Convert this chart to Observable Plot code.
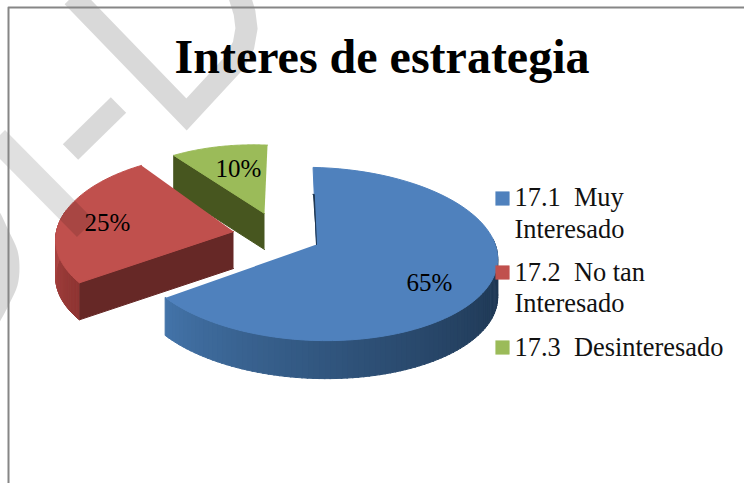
<!DOCTYPE html>
<html>
<head>
<meta charset="utf-8">
<script src="https://cdn.jsdelivr.net/npm/d3@7"></script>
<script src="https://cdn.jsdelivr.net/npm/@observablehq/plot@0.6"></script>
<style>
html,body{margin:0;padding:0;background:#fff;}
svg{display:block;}
</style>
</head>
<body>
<div id="chart"></div>
<script>
// Data
const categories = ["17.1  Muy Interesado", "17.2  No tan Interesado", "17.3  Desinteresado"];
const shares = [65, 25, 10];
const percentLabels = ["65%", "25%", "10%"];
const topColors = ["#4f81bd", "#c0504d", "#9bbb59"];
const titleText = "Interes de estrategia";

// Projection of the exploded 3-D pie (the chart space is in pixels of the picture)
const apexX = [316, 233, 264];
const apexY = [244, 231, 213];
const radiusX = [181, 177, 168];
const radiusY = [86.5, 86.5, 78];
const depth = [38, 37, 36];
const widen = [0.05, 0.1, 0.1];
const rotate = [0, 0.026, 0];
const side = [
  {light: "#4373a8", dark: "#1d3550", face: "#1d3550"},
  {light: "#b34a47", dark: "#8f3533", face: "#662826"},
  {light: "#47561f", dark: "#47561f", face: "#47561f"}
];

// Angles clockwise from the top, taken from the shares
const startAngles = d3.cumsum([0, ...shares.slice(0, -1)]).map((v, i) => v / 100 * 2 * Math.PI + rotate[i]);
const endAngles = d3.cumsum(shares).map((v, i) => v / 100 * 2 * Math.PI + rotate[i]);

function project(i, phi, r, z) {
  const s = Math.sin(phi), c = Math.cos(phi);
  const x = apexX[i] + r * radiusX[i] * s * (1 - widen[i] * c);
  const y = apexY[i] + r * (-radiusY[i] * c + 9.5 * c * c + 5 * s * s + 5 * s) + z * depth[i];
  return {x, y};
}

const polys = [];
function addPoly(id, fill, pts) {
  pts.forEach(p => polys.push({id, fill, x: p.x, y: p.y}));
}
function arcAngles(a, b, n) {
  return d3.range(n + 1).map(k => a + (b - a) * k / n);
}

// Draw order: green, red, blue (back to front as in the picture)
[2, 1, 0].forEach(i => {
  let a = startAngles[i], b = endAngles[i];
  if (i === 0) a -= 0.02;
  if (i === 2) b += 0.02;
  const apex0 = project(i, 0, 0, 0), apex1 = project(i, 0, 0, 1);

  // radial face of the cut that shows to the viewer
  if (i !== 0) {
    addPoly(`f${i}`, side[i].face, [apex0, project(i, a, 1, 0), project(i, a, 1, 1), apex1]);
  }
  // outer wall, as small quads so the shade can run across it
  if (i !== 2) {
    const wallFrom = i === 0 ? Math.PI / 2 - 0.18 : a;
    const wallTo = i === 0 ? b : 1.5 * Math.PI + 0.25;
    const n = 90;
    const angs = arcAngles(wallFrom, wallTo, n);
    const shade = d3.interpolateRgb(side[i].dark, side[i].light);
    for (let k = 0; k < n; k++) {
      const t = i === 0 ? Math.pow(k / (n - 1), 1.4) : k / (n - 1);
      const p0 = project(i, angs[k], 1, 0), p1 = project(i, angs[k + 1] + 0.006, 1, 0);
      const q1 = project(i, angs[k + 1] + 0.006, 1, 1), q0 = project(i, angs[k], 1, 1);
      addPoly(`w${i}-${k}`, shade(t), [p0, p1, q1, q0]);
    }
  }
  // top surface
  addPoly(`t${i}`, topColors[i], [apex0, ...arcAngles(a, b, 80).map(p => project(i, p, 1, 0))]);
  if (i === 0) {
    // thin dark sliver along blue's first cut
    addPoly("sliver", side[0].face, [apex0, project(0, a, 0.65, 0), project(0, a - 0.012, 0.65, 0)]);
  }
});

// Faint watermark strokes crossing the chart
const watermark = [
  {id: "D", pts: [[72,-4],[186,114],[234,62],[243,45],[246,28],[244,12],[239,-4]]},
  {id: "dash", pts: [[118,104.5],[70,151.5]]}
];
const watermarkRows = watermark.flatMap(w => w.pts.map(([x, y]) => ({id: w.id, x, y})));
const barRows = [[-4,138],[85,228]].map(([x, y]) => ({x, y}));
const crescent = [[-2,210],[0,213],[9,232],[17,250],[19,267],[17,285],[9,303],[0,320],[-2,323]];
const crescentRows = crescent.map(([x, y]) => ({x, y}));

const frame = [{x: 8, y: 483}, {x: 8, y: 7}, {x: 744, y: 7}];

const labelRows = [
  {t: percentLabels[0], x: 429, y: 282},
  {t: percentLabels[1], x: 107, y: 222},
  {t: percentLabels[2], x: 238, y: 168}
];
const swatches = [
  {c: topColors[0], x: 502, y: 198},
  {c: topColors[1], x: 502, y: 272},
  {c: topColors[2], x: 502, y: 347}
];
const legendLines = [
  {t: "17.1  Muy", x: 514, y: 197},
  {t: "Interesado", x: 514, y: 229},
  {t: "17.2  No tan", x: 514, y: 272},
  {t: "Interesado", x: 514, y: 303},
  {t: "17.3  Desinteresado", x: 514, y: 347}
];

const serif = "'Liberation Serif', 'Times New Roman', serif";
const plot = Plot.plot({
  width: 744,
  height: 483,
  margin: 0,
  style: {background: "#fff", overflow: "hidden"},
  x: {domain: [0, 744], range: [0, 744], axis: null},
  y: {domain: [0, 483], range: [0, 483], axis: null},
  marks: [
    Plot.line(watermarkRows, {x: "x", y: "y", z: "id", stroke: "#000", strokeOpacity: 0.15, strokeWidth: 22, curve: "linear", strokeLinejoin: "miter", strokeMiterlimit: 4, strokeLinecap: "butt"}),
    Plot.line(crescentRows, {x: "x", y: "y", fill: "#000", fillOpacity: 0.15, stroke: "none", curve: "catmull-rom"}),
    Plot.line(polys, {x: "x", y: "y", z: "id", fill: "fill", stroke: "fill", strokeWidth: 1, curve: "linear"}),
    Plot.line(barRows, {x: "x", y: "y", stroke: "#000", strokeOpacity: 0.12, strokeWidth: 24, strokeLinecap: "butt"}),
    Plot.line(frame, {x: "x", y: "y", stroke: "#868686", strokeWidth: 2}),
    Plot.text([titleText], {x: () => 381.5, y: () => 57, text: d => d, fontFamily: serif, fontWeight: "bold", fontSize: 48, fill: "#000"}),
    Plot.text(labelRows, {x: "x", y: "y", text: "t", fontFamily: serif, fontSize: 25, fill: "#000"}),
    Plot.dot(swatches, {x: "x", y: "y", fill: "c", symbol: "square", r: 8, stroke: null}),
    Plot.text(legendLines, {x: "x", y: "y", text: "t", textAnchor: "start", fontFamily: serif, fontSize: 26.4, fill: "#111"})
  ]
});
document.getElementById("chart").appendChild(plot);
</script>
</body>
</html>
